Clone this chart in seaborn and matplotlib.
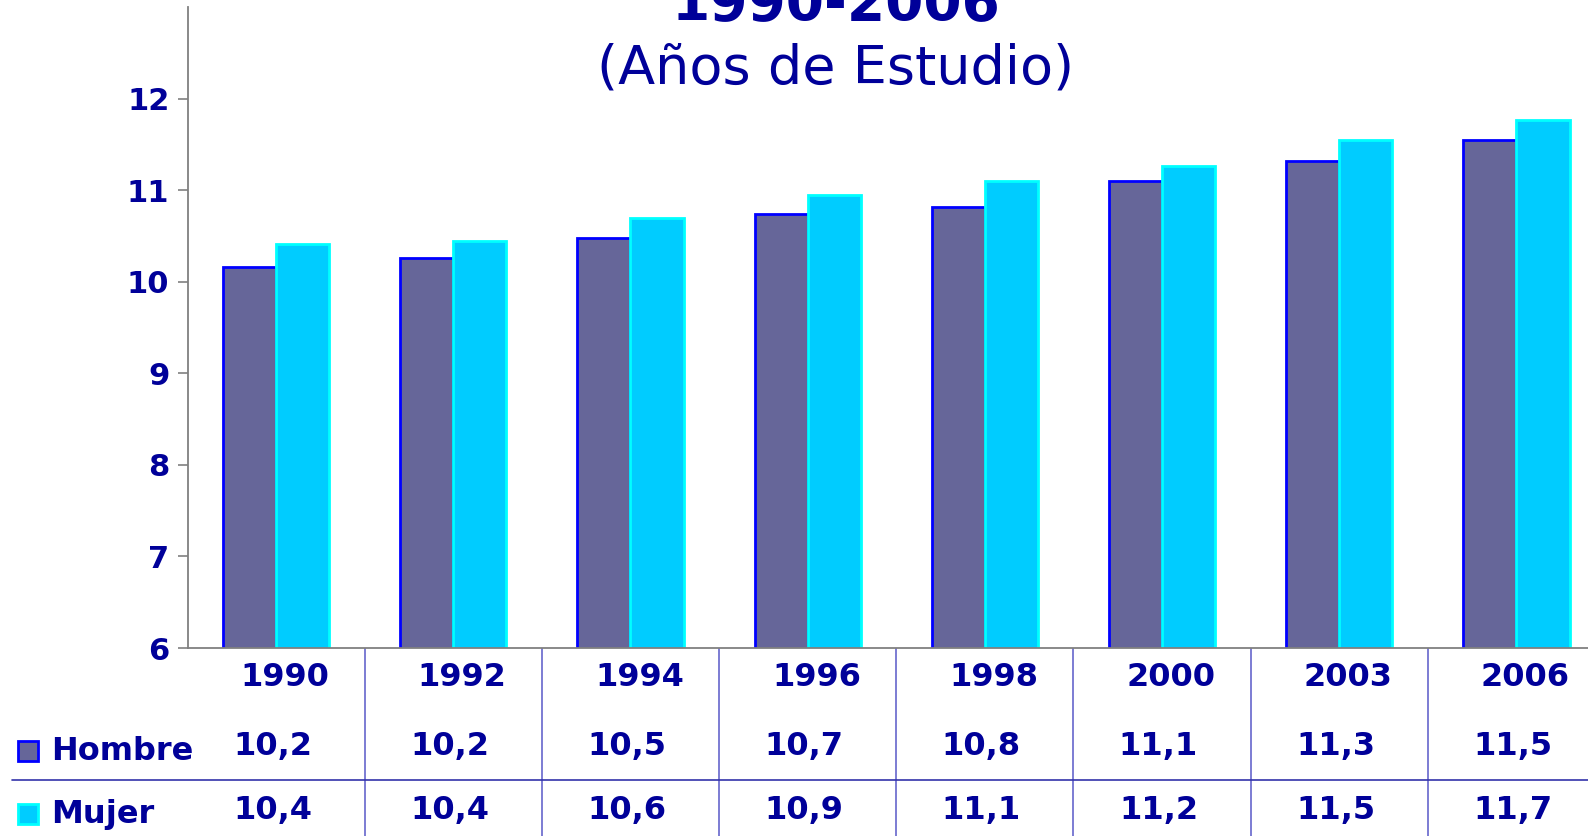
import matplotlib
matplotlib.use("Agg")
import matplotlib.pyplot as plt
from matplotlib.patches import Rectangle
import seaborn as sns
import pandas as pd

# data
years = ["1990", "1992", "1994", "1996", "1998", "2000", "2003", "2006"]
hombre = [10.16, 10.26, 10.48, 10.74, 10.82, 11.10, 11.32, 11.55]
mujer = [10.41, 10.45, 10.70, 10.95, 11.10, 11.26, 11.55, 11.77]
hombre_lbl = ["10,2", "10,2", "10,5", "10,7", "10,8", "11,1", "11,3", "11,5"]
mujer_lbl = ["10,4", "10,4", "10,6", "10,9", "11,1", "11,2", "11,5", "11,7"]
series = ["Hombre", "Mujer"]

navy = "#000099"
fills = {"Hombre": "#666699", "Mujer": "#00ccff"}
edges = {"Hombre": "#0000ff", "Mujer": "#00ffff"}

sns.set_style("white")
plt.rcParams["font.family"] = ["DejaVu Sans"]

df = pd.DataFrame({
    "year": years * 2,
    "value": hombre + mujer,
    "serie": ["Hombre"] * len(years) + ["Mujer"] * len(years),
})

W, H = 1588, 836
fig = plt.figure(figsize=(W / 100, H / 100), dpi=100)
ax = fig.add_axes([187.5 / W, 1 - 648 / H, (1605 - 187.5) / W, (648 - 7) / H])

sns.barplot(data=df, x="year", y="value", hue="serie", order=years,
            hue_order=series, palette=fills, saturation=1, width=0.6,
            ax=ax, legend=False)
for cont, s in zip(ax.containers, series):
    for bar in cont:
        bar.set_edgecolor(edges[s])
        bar.set_linewidth(2)

ax.set_xlim(-0.5, 7.5)
ax.set_ylim(6, 13)
ax.set_yticks(range(6, 13))
ax.set_xticks([])
ax.set_xlabel("")
ax.set_ylabel("")
for sp in ["top", "right"]:
    ax.spines[sp].set_visible(False)
for sp in ["left", "bottom"]:
    ax.spines[sp].set_color("#808080")
    ax.spines[sp].set_linewidth(1.3)
ax.tick_params(axis="y", length=7, width=1.2, color="#808080", pad=6,
               labelsize=22, labelcolor=navy, left=True)
for t in ax.get_yticklabels():
    t.set_fontweight("bold")

# title (top part is cut off in the original)
fig.text(836 / W, 1 - 20 / H, "1990-2006", ha="center", va="baseline",
         fontsize=39.5, fontweight="bold", color=navy)
fig.text(836 / W, 1 - 84 / H, "(Años de Estudio)", ha="center", va="baseline",
         fontsize=39, color=navy)

# data table below the axis
trans = ax.get_xaxis_transform()
ax_h = 648 - 7
def ay(py):
    return (648 - py) / ax_h

ax.vlines([i + 0.5 for i in range(len(years) - 1)], ay(H + 5), 0,
          transform=trans, color="#6666cc", lw=1.2, clip_on=False)
fs = 23
for i, y in enumerate(years):
    ax.text(i + 0.05, ay(677), y, transform=trans, ha="center", va="center",
            fontsize=fs, fontweight="bold", color=navy, clip_on=False)
    ax.text(i - 0.02, ay(747), hombre_lbl[i], transform=trans, ha="center",
            va="center", fontsize=fs, fontweight="bold", color=navy, clip_on=False)
    ax.text(i - 0.02, ay(811), mujer_lbl[i], transform=trans, ha="center",
            va="center", fontsize=fs, fontweight="bold", color=navy, clip_on=False)

fig.add_artist(plt.Line2D([12 / W, 1], [1 - 780 / H] * 2, color="#3333aa", lw=1.2))

for s, py in zip(series, [741, 804]):
    fig.add_artist(Rectangle((18 / W, 1 - (py + 20) / H), 20 / W, 20 / H,
                             facecolor=fills[s], edgecolor=edges[s], lw=2,
                             transform=fig.transFigure))
    fig.text(51 / W, 1 - (py + 10) / H, s, ha="left", va="center",
             fontsize=fs, fontweight="bold", color=navy)

fig.savefig("out.png", dpi=100)
